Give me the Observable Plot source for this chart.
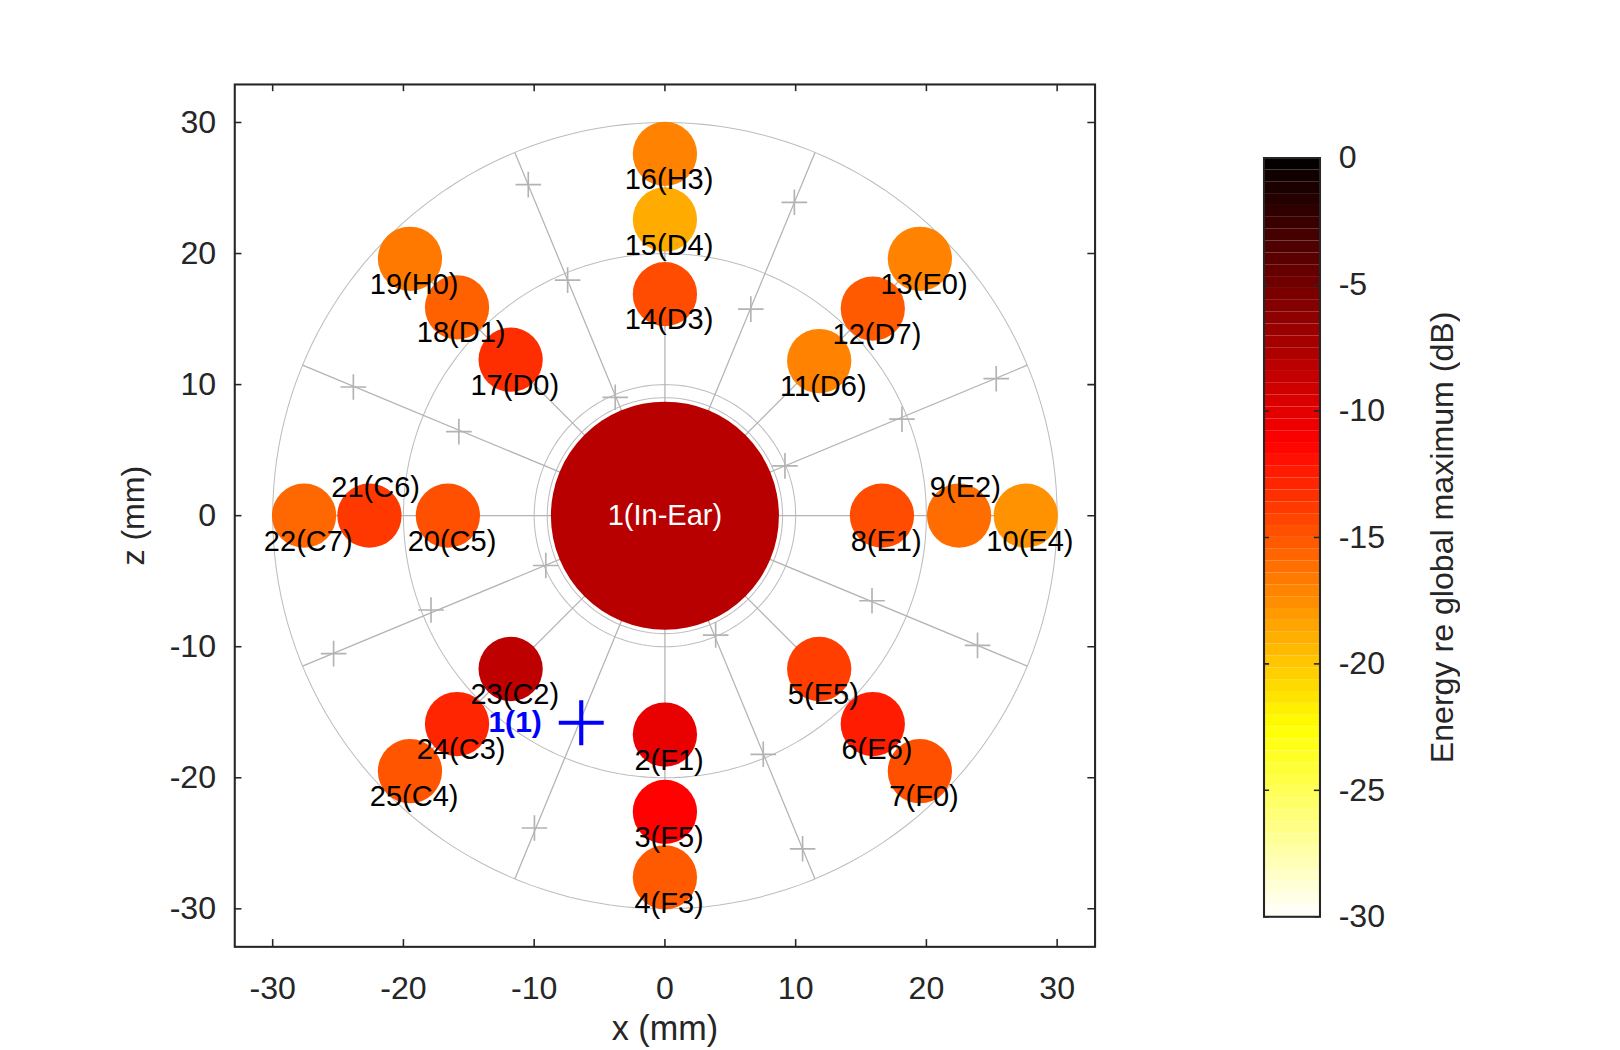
<!DOCTYPE html>
<html>
<head>
<meta charset="utf-8">
<script src="https://cdn.jsdelivr.net/npm/d3@7"></script>
<script src="https://cdn.jsdelivr.net/npm/@observablehq/plot@0.6"></script>
<style>
  html, body { margin: 0; background: #fff; font-family: "Liberation Sans", sans-serif; width: 1620px; height: 1050px; overflow: hidden; }
  #outer { width: 1620px; height: 1050px; overflow: hidden; }
  #wrap { position: relative; width: 1563px; height: 1013px; transform: scale(1.0365); transform-origin: 0 0; }
  #main { position: absolute; left: 0; top: 0; }
  #bar { position: absolute; left: 1146px; top: 0; }
</style>
</head>
<body>
<div id="outer"><div id="wrap"><div id="main"></div><div id="bar"></div></div></div>
<script>
// electrodes: name, x (mm), z (mm), energy (dB)
const names = ["16(H3)","15(D4)","14(D3)","13(E0)","12(D7)","11(D6)","19(H0)","18(D1)","17(D0)",
  "22(C7)","21(C6)","20(C5)","8(E1)","9(E2)","10(E4)","23(C2)","24(C3)","25(C4)",
  "5(E5)","6(E6)","7(F0)","2(F1)","3(F5)","4(F3)"]
const xs = [0,0,0,19.5,15.9,11.8,-19.5,-15.9,-11.8,-27.6,-22.6,-16.6,16.6,22.5,27.6,-11.8,-15.9,-19.5,
  11.8,15.9,19.5,0,0,0]
const zs = [27.6,22.6,16.9,19.6,15.8,11.8,19.6,15.9,11.9,0,0,0,0,0,0,-11.7,-15.9,-19.5,
  -11.7,-15.9,-19.5,-16.7,-22.6,-27.6]
const dB = [-17,-18.8,-14.6,-17,-15.2,-17,-16.6,-15.5,-13.3,-15.8,-13.7,-14.8,-14.6,-16,-17.7,-8.4,-12.9,-15,
  -14,-12.5,-14.8,-10.3,-11.3,-15.2]
const aboveLabels = ["9(E2)", "21(C6)"]
const inEar = {name: "1(In-Ear)", x: 0, z: 0, v: -8.1}
const marker = {name: "1(1)", x: -6.4, z: -15.8}
const plusX = [-10.45,-7.44,-3.80,6.57,9.90,25.34,18.13,9.18,15.84,23.91,3.88,7.52,10.53,-9.98,-9.11,-17.89,-25.34,-15.76,-23.83]
const plusZ = [25.26,17.97,9.03,15.76,23.91,10.45,7.36,3.80,-6.49,-9.90,-9.11,-18.21,-25.42,-23.83,-3.80,-7.20,-10.53,6.41,9.82]
const ringRadii = [9.0, 10, 20, 30]
const ticks = [-30,-20,-10,0,10,20,30]
const barTicks = [0,-5,-10,-15,-20,-25,-30]

const electrodes = names.map((n, i) => ({name: n, x: xs[i], z: zs[i], v: dB[i]}))
const pluses = plusX.map((x, i) => ({x, z: plusZ[i]}))
const fmt = d => d < 0 ? "-" + Math.abs(d) : String(d)

// Octave "hot" colormap, s=0 black .. s=1 white
function hot(s) {
  const c = v => Math.max(0, Math.min(1, v))
  return d3.rgb(255 * c(s / 0.375), 255 * c((s - 0.375) / 0.375), 255 * c((s - 0.75) / 0.25)).toString()
}
const colorOpt = {type: "linear", domain: [-30, 0], interpolate: t => hot(1 - t)}

const rings = ringRadii.map(r => d3.range(0, 361, 2).map(a => ({r, x: r * Math.cos(a * Math.PI / 180), z: r * Math.sin(a * Math.PI / 180)}))).flat()
const spokes = d3.range(0, 360, 22.5).map(a => ({x1: 0, z1: 0, x2: 30 * Math.cos(a * Math.PI / 180), z2: 30 * Math.sin(a * Math.PI / 180)}))

const lim = 32.9
const tl = 0.55
const font = "Liberation Sans, sans-serif"
const main = Plot.plot({
  width: 1100, height: 1013,
  marginLeft: 226, marginRight: 44, marginTop: 81, marginBottom: 100,
  x: {domain: [-lim, lim]},
  y: {domain: [-lim, lim]},
  color: colorOpt,
  style: {fontFamily: font, fontSize: "30px", color: "#262626"},
  marks: [
    Plot.line(rings, {x: "x", y: "z", z: "r", stroke: "#bdbdbd", strokeWidth: 1}),
    Plot.link(spokes, {x1: "x1", y1: "z1", x2: "x2", y2: "z2", stroke: "#b3b3b3", strokeWidth: 1.2}),
    Plot.dot(pluses, {x: "x", y: "z", symbol: "plus", r: 8, stroke: "#b3b3b3", strokeWidth: 1.6}),
    Plot.dot(electrodes, {x: "x", y: "z", r: 31, fill: "v"}),
    Plot.dot([inEar], {x: "x", y: "z", r: 110, fill: "v"}),
    Plot.text([inEar], {x: "x", y: "z", text: "name", fill: "white", fontSize: 28}),
    Plot.text(electrodes.filter(d => !aboveLabels.includes(d.name)), {x: "x", y: "z", text: "name", dx: 4, dy: 25, fontSize: 28, fill: "black"}),
    Plot.text(electrodes.filter(d => aboveLabels.includes(d.name)), {x: "x", y: "z", text: "name", dx: 6, dy: -27, fontSize: 28, fill: "black"}),
    Plot.dot([marker], {x: "x", y: "z", symbol: "plus", r: 14, stroke: "#0000ff", strokeWidth: 4}),
    Plot.text([marker], {x: "x", y: "z", text: "name", dx: -38, textAnchor: "end", fill: "#0000ff", fontSize: 29, fontWeight: "bold"}),
    Plot.frame({stroke: "#262626", strokeWidth: 2}),
    Plot.ruleX(ticks, {x: d => d, y1: -lim, y2: -lim + tl, stroke: "#262626", strokeWidth: 1.5}),
    Plot.ruleX(ticks, {x: d => d, y1: lim, y2: lim - tl, stroke: "#262626", strokeWidth: 1.5}),
    Plot.ruleY(ticks, {y: d => d, x1: -lim, x2: -lim + tl, stroke: "#262626", strokeWidth: 1.5}),
    Plot.ruleY(ticks, {y: d => d, x1: lim, x2: lim - tl, stroke: "#262626", strokeWidth: 1.5}),
    Plot.axisX(ticks, {tickSize: 0, tickPadding: 28, fontSize: 31, tickFormat: fmt, label: null}),
    Plot.text(["x (mm)"], {frameAnchor: "bottom", dy: 90, fontSize: 33, fill: "#262626"}),
    Plot.axisY(ticks, {tickSize: 0, tickPadding: 18, fontSize: 31, tickFormat: fmt, label: "z (mm)", labelAnchor: "center", labelArrow: false, labelOffset: 110})
  ]
})
document.getElementById("main").append(main)

// colorbar
const steps = 64
const cells = d3.range(steps).map(i => ({y1: -30 + 30 * i / steps, y2: -30 + 30 * (i + 1) / steps}))
const bar = Plot.plot({
  width: 320, height: 1013,
  marginLeft: 73, marginRight: 193, marginTop: 152, marginBottom: 129,
  x: {domain: [0, 1], axis: null},
  y: {domain: [-30, 0]},
  color: colorOpt,
  style: {fontFamily: font, fontSize: "30px", color: "#262626"},
  marks: [
    Plot.rect(cells, {x1: 0, x2: 1, y1: "y1", y2: "y2", fill: d => (d.y1 + d.y2) / 2}),
    Plot.ruleY(barTicks, {y: d => d, x1: 0, x2: 0.1, stroke: "#262626", strokeWidth: 1.5}),
    Plot.ruleY(barTicks, {y: d => d, x1: 1, x2: 0.9, stroke: "#262626", strokeWidth: 1.5}),
    Plot.frame({stroke: "#262626", strokeWidth: 2}),
    Plot.axisY(barTicks, {anchor: "right", tickSize: 0, tickPadding: 18, fontSize: 31, tickFormat: fmt,
      label: "Energy re global maximum (dB)", labelAnchor: "center", labelArrow: false, labelOffset: 128})
  ]
})
document.getElementById("bar").append(bar)
</script>
</body>
</html>
